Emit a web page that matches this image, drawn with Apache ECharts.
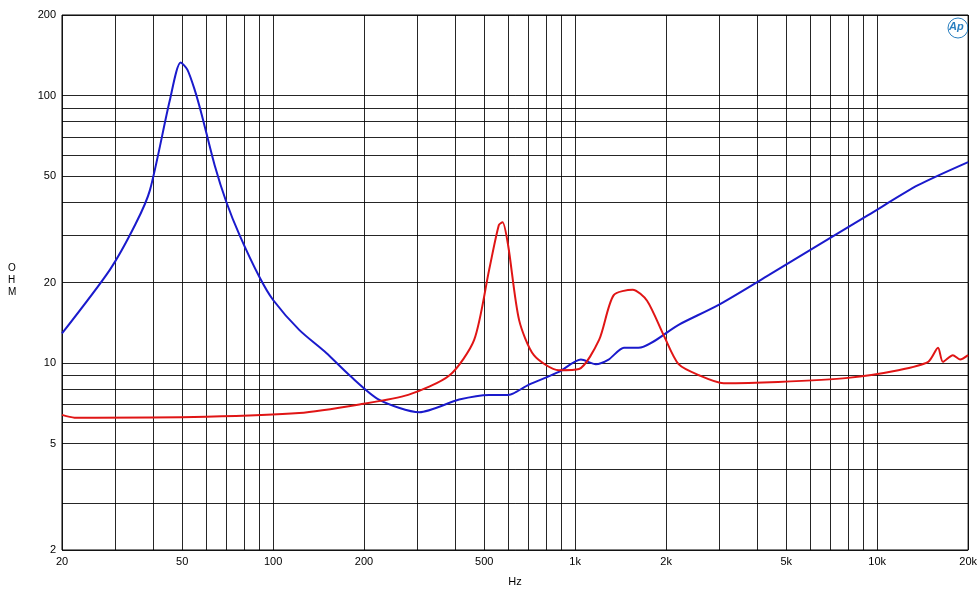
<!DOCTYPE html>
<html>
<head>
<meta charset="utf-8">
<script src="https://cdn.jsdelivr.net/npm/echarts@6/dist/echarts.min.js"></script>
<style>html,body{margin:0;background:#fff}#chart{width:980px;height:600px}</style>
</head>
<body>
<div id="chart"></div>
<script>
// impedance curves, Hz -> ohm
var blueHz  = [20,28.8,35,39.1,45.5,49.4,52,55,58,64,70,77.5,90,100,122,150,179,224,305,413,519,600,625,703,883,1045,1170,1290,1450,1620,2200,2985,4370,6380,9330,13650,20000];
var blueOhm = [12.9,22.3,33,44.3,96,133,125,105,85,55,40,30,21,17.2,13.3,10.9,9.0,7.3,6.55,7.3,7.6,7.6,7.7,8.3,9.26,10.3,9.9,10.3,11.4,11.4,13.9,16.5,21.3,27.6,35.7,46.2,56.4];
var redHz   = [20,22,60,122,193,280,384,463,519,559,575,600,652,730,883,1030,1200,1340,1550,1730,1970,2200,2570,3100,4700,8000,11750,14750,15900,16500,17800,18800,20000];
var redOhm  = [6.4,6.25,6.3,6.5,7.0,7.6,9.0,12.2,22.3,32.8,33.6,27.5,14.5,10.7,9.4,9.5,12.2,17.9,18.8,17.1,12.6,9.9,9.0,8.4,8.5,8.8,9.4,10.1,11.4,10.1,10.7,10.3,10.7];
var xLabels = [20,50,100,200,500,1000,2000,5000,10000,20000];
var yLabels = [2,5,10,20,50,100,200];
var xGrid = [20,30,40,50,60,70,80,90,100,200,300,400,500,600,700,800,900,1000,2000,3000,4000,5000,6000,7000,8000,9000,10000,20000];
var yGrid = [2,3,4,5,6,7,8,9,10,20,30,40,50,60,70,80,90,100,200];

var chart = echarts.init(document.getElementById('chart'));
function zip(a, b) { return a.map(function (v, i) { return [v, b[i]]; }); }
function kfmt(v) { return v >= 1000 ? (v / 1000) + 'k' : String(v); }

var gridLines = xGrid.map(function (v) { return {xAxis: v}; })
    .concat(yGrid.map(function (v) { return {yAxis: v}; }));

option = {
    animation: false,
    backgroundColor: '#fff',
    grid: {left: 62, right: 10, top: 15, bottom: 50, show: true, borderColor: '#000', borderWidth: 1},
    xAxis: {
        type: 'log', logBase: 10, min: 20, max: 20000,
        axisLine: {show: false}, axisTick: {show: false}, splitLine: {show: false},
        axisLabel: {customValues: xLabels, formatter: kfmt, color: '#000', fontSize: 11, fontFamily: 'Arial', margin: 6},
        name: 'Hz', nameLocation: 'middle', nameGap: 26, nameTextStyle: {color: '#000', fontSize: 11, fontFamily: 'Arial'}
    },
    yAxis: {
        type: 'log', logBase: 10, min: 2, max: 200,
        axisLine: {show: false}, axisTick: {show: false}, splitLine: {show: false},
        axisLabel: {customValues: yLabels, color: '#000', fontSize: 11, fontFamily: 'Arial', margin: 6}
    },
    graphic: [
        {type: 'text', left: 8, top: 262, style: {text: 'O\nH\nM', fill: '#000', font: '10px Arial', lineHeight: 12}},
        {type: 'circle', shape: {cx: 958, cy: 28, r: 10}, style: {fill: 'none', stroke: '#2a7fc0', lineWidth: 1}},
        {type: 'text', left: 949, top: 21, style: {text: 'Ap', fill: '#2a7fc0', font: 'italic bold 11px Arial'}}
    ],
    series: [
        {
            type: 'line', data: [], silent: true,
            markLine: {silent: true, symbol: 'none', label: {show: false},
                lineStyle: {color: '#000', width: 1, type: 'solid', opacity: 0.85}, data: gridLines}
        },
        {name: 'blue', type: 'line', data: zip(blueHz, blueOhm), smooth: 0.25, showSymbol: false,
            lineStyle: {color: '#1a1acc', width: 2}, z: 5},
        {name: 'red', type: 'line', data: zip(redHz, redOhm), smooth: 0.25, showSymbol: false,
            lineStyle: {color: '#e01515', width: 2}, z: 6}
    ]
};
chart.setOption(option);
</script>
</body>
</html>
